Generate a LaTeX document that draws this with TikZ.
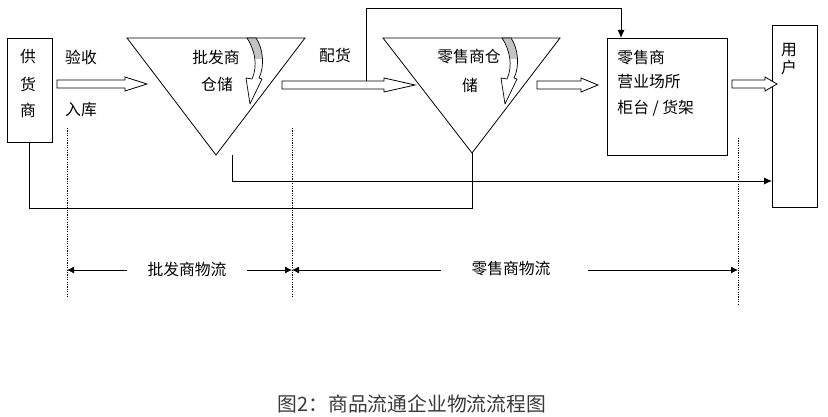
\documentclass[tikz,border=0pt]{standalone}
\usepackage{fontspec}
\newfontfamily\cjk{Noto Sans CJK SC}
\usetikzlibrary{arrows.meta}
\definecolor{capgray}{HTML}{3A3A3A}
\definecolor{fillgray}{HTML}{C4C4C4}
\newcommand\hollowarr[4]{\draw[hollow] (#1,#4-4) -- (#3,#4-4) -- (#3,#4-7) -- (#2,#4) -- (#3,#4+7) -- (#3,#4+4) -- (#1,#4+4) -- cycle;}
\newcommand\curvpath{(9,0) .. controls (16,10) and (18,28) .. (12,40) -- (15,41) -- (3,66) -- (-1,40) -- (5,41) .. controls (11,28) and (8,12) .. (0,0) -- cycle}
\newcommand\curvarr[2]{%
  \begin{scope}[shift={(#1,#2)}]
    \begin{scope}\clip (-5,-1) rectangle (25,21); \fill[fillgray] \curvpath; \end{scope}
    \draw[line width=0.7pt, line join=round] \curvpath;
  \end{scope}}
\begin{document}
\begin{tikzpicture}[x=1pt,y=-1pt,
  line width=0.9pt,
  box/.style={draw, line width=0.9pt, inner sep=0pt},
  lbl/.style={font=\cjk\fontsize{15.8}{17}\selectfont, inner sep=0pt},
  tip/.style={-{Latex[length=8pt,width=7pt]}},
  dim/.style={line width=0.8pt, -{Latex[length=7pt,width=7pt]}},
  guide/.style={line width=0.6pt, dash pattern=on 1.2pt off 1.2pt},
  hollow/.style={draw, fill=white, line width=0.8pt, line join=miter}]
\useasboundingbox (0,0) rectangle (828,417);

% boxes
\node[box, minimum width=45pt, minimum height=104pt] (sup) at (29.5,90) {};
\node[box, minimum width=120pt, minimum height=117pt] (ret) at (667,96.5) {};
\node[box, minimum width=45pt, minimum height=182pt] (usr) at (794.5,116) {};

% triangles
\coordinate (t1l) at (127,38); \coordinate (t1r) at (305,38); \coordinate (t1a) at (216,155);
\coordinate (t2l) at (383,38); \coordinate (t2r) at (560,38); \coordinate (t2a) at (472,153);
\draw[line width=0.8pt] (t1l) -- (t1r) -- (t1a) -- cycle;
\draw[line width=0.8pt] (t2l) -- (t2r) -- (t2a) -- cycle;

% curved arrows
\curvarr{247}{38}
\curvarr{502}{38}

% labels
\node[lbl] (g1) at (28,57) {供};
\node[lbl] (g2) at (28,84) {货};
\node[lbl] (g3) at (28,110) {商};
\node[lbl] (ys) at (81,57) {验收};
\node[lbl] (rk) at (81,110) {入库};
\node[lbl] (pf) at (216,57) {批发商};
\node[lbl] (cc) at (217,84) {仓储};
\node[lbl] (ph) at (335,55) {配货};
\node[lbl] (ls) at (469,57) {零售商仓};
\node[lbl] (ch) at (470,85) {储};
\node[lbl, anchor=west] (r1) at (617,58) {零售商};
\node[lbl, anchor=west] (r2) at (617,82) {营业场所};
\node[lbl, anchor=west] (r3) at (617,108) {柜台 / 货架};
\node[lbl] (u1) at (789,50) {用};
\node[lbl] (u2) at (789,68) {户};

% hollow arrows
\hollowarr{57}{147}{125}{84}
\hollowarr{282}{415}{384}{85}
\hollowarr{537}{598}{581}{85}
\hollowarr{732}{777}{765}{84}

% connectors
\coordinate (t2b) at (472,208);
\draw (sup.south) |- (t2b) -- (t2a);
\coordinate (t1s) at (232,155);
\coordinate (uin) at (772,181);
\draw[tip] (t1s) |- (uin);
\coordinate (pstart) at (366,81);
\coordinate (ptop) at (366,8);
\coordinate (rtop) at (621,38);
\draw[tip] (pstart) -- (ptop) -| (rtop);

% guides
\coordinate (d1a) at (67,128); \coordinate (d1b) at (67,298);
\coordinate (d2a) at (292,128); \coordinate (d2b) at (292,298);
\coordinate (d3a) at (738,138); \coordinate (d3b) at (738,305);
\draw[guide] (d1a) -- (d1b);
\draw[guide] (d2a) -- (d2b);
\draw[guide] (d3a) -- (d3b);

% flow dimension arrows
\node[lbl] (wf) at (187,269) {批发商物流};
\node[lbl] (lf) at (511,269) {零售商物流};
\coordinate (m1) at (67,270); \coordinate (m2) at (292,270); \coordinate (m3) at (738,270);
\coordinate (w1) at (127,270); \coordinate (w2) at (247,270);
\coordinate (l1) at (441,270); \coordinate (l2) at (588,270);
\draw[dim] (w1) -- (m1);
\draw[dim] (w2) -- (m2);
\draw[dim] (l1) -- (m2);
\draw[dim] (l2) -- (m3);

% caption
\node[font=\cjk\fontsize{19.8}{22}\selectfont, text=capgray, inner sep=0pt] (cap) at (412,404) {图2：商品流通企业物流流程图};
\end{tikzpicture}
\end{document}
